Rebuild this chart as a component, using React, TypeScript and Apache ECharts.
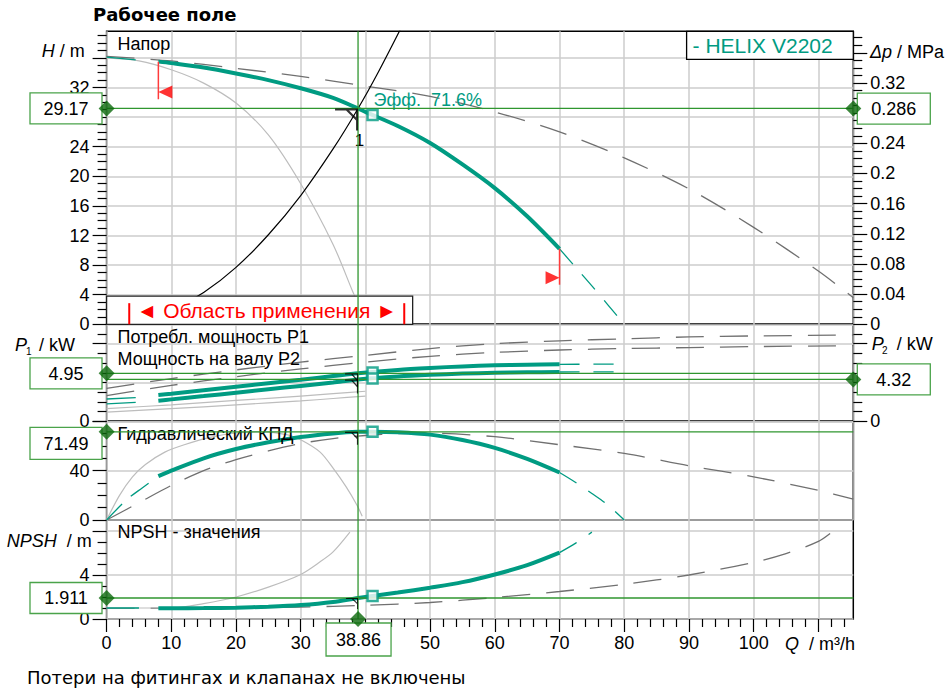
import React, { useEffect, useRef } from "react";
import * as echarts from "echarts";

// ---------------- data ----------------
const Q_MAX = 115.4;
const H_MAX = 39.6;
const DP_MAX = 0.3885;
const P_MAX = 10;
const ETA_MAX = 80;
const NPSH_MAX = 9;

const X_TICKS = [0, 10, 20, 30, 40, 50, 60, 70, 80, 90, 100, 110];
const X_LABELS = [0, 10, 20, 30, 50, 60, 70, 80, 90, 100];
const H_TICKS = [0, 4, 8, 12, 16, 20, 24, 28, 32, 36];
const H_LABELS = [0, 4, 8, 12, 16, 20, 24, 32];
const DP_TICKS = [0, 0.04, 0.08, 0.12, 0.16, 0.2, 0.24, 0.28, 0.32, 0.36];
const DP_LABELS = [0, 0.04, 0.08, 0.12, 0.16, 0.2, 0.24, 0.32];
const P_TICKS = [0, 4, 8];
const P_LABELS = [0];
const ETA_TICKS = [0, 40, 80];
const ETA_LABELS = [0, 40];
const NPSH_TICKS = [0, 4, 8];
const NPSH_LABELS = [0, 4];

// operating point
const OP_Q = 38.86;
const OP_H = 29.17;
const OP_DP = 0.286;
const OP_P1 = 4.95;
const OP_P2 = 4.32;
const OP_ETA = 71.49;
const OP_NPSH = 1.911;
// best efficiency marker
const BEP_Q = 41.1;
const BEP_H = 28.3;
const BEP_P1 = 5.04;
const BEP_P2 = 4.41;
const BEP_ETA = 71.6;
const BEP_NPSH = 2.08;

// head
const H_Q = [8, 10, 15, 20, 25, 30, 35, 38.86, 40, 45, 50, 55, 60, 65, 70];
const H_VAL = [35.5, 35.3, 34.7, 33.9, 33.0, 31.9, 30.6, 29.17, 28.7, 26.8, 24.5, 21.6, 18.4, 14.6, 10.2];
const H_LEAD_Q = [0, 4.5];
const H_LEAD = [36.1, 35.75];
const H_TAIL_Q = [70, 72.5, 75, 77.5, 80];
const H_TAIL = [10.2, 7.7, 5.2, 2.6, 0];
const HMAX_Q = [0, 10, 20, 30, 40, 50, 60, 70, 80, 90, 100, 110, 115.4];
const HMAX = [36.2, 35.6, 34.6, 33.5, 32.2, 30.8, 28.7, 26.0, 22.5, 18.3, 13.1, 7.2, 3.6];
const HMIN_Q = [0, 5, 10, 15, 20, 25, 30, 35, 38, 40.2];
const HMIN = [36.0, 35.6, 34.4, 32.6, 29.9, 25.6, 19.0, 10.8, 4.5, 0];
const SYS_Q = [0, 5, 10, 15, 20, 25, 30, 35, 38.86, 42, 46];
const SYS_H = [0, 0.5, 1.9, 4.3, 7.7, 12.1, 17.4, 23.7, 29.17, 34.1, 40.9];

// power
const P_Q = [8, 10, 15, 20, 25, 30, 35, 38.86, 45, 50, 55, 60, 65, 70];
const P1_VAL = [2.7, 2.84, 3.2, 3.56, 3.92, 4.28, 4.66, 4.95, 5.3, 5.5, 5.66, 5.77, 5.84, 5.87];
const P2_VAL = [2.12, 2.26, 2.6, 2.95, 3.3, 3.65, 4.01, 4.32, 4.62, 4.79, 4.92, 5.0, 5.05, 5.08];
const P_LEAD_Q = [0, 4.5];
const P1_LEAD = [2.3, 2.45];
const P2_LEAD = [1.8, 1.95];
const P_TAIL_Q = [70, 75, 80];
const P1_TAIL = [5.87, 5.89, 5.9];
const P2_TAIL = [5.08, 5.09, 5.1];
const PMAX_Q = [0, 10, 20, 30, 40, 50, 60, 70, 80, 90, 100, 115.4];
const P1MAX = [3.4, 4.4, 5.3, 6.1, 6.8, 7.5, 8.0, 8.3, 8.5, 8.7, 8.8, 8.9];
const P2MAX = [2.65, 3.7, 4.6, 5.4, 6.1, 6.7, 7.1, 7.35, 7.5, 7.6, 7.7, 7.8];
const PMIN_Q = [0, 10, 20, 30, 35, 40];
const P1MIN = [1.3, 1.7, 2.15, 2.6, 2.85, 3.1];
const P2MIN = [0.95, 1.3, 1.7, 2.1, 2.35, 2.6];

// efficiency
const ETA_Q = [8, 10, 15, 20, 25, 30, 35, 38.86, 41.1, 45, 50, 55, 60, 65, 70];
const ETA_VAL = [35.5, 40, 50, 57.5, 63, 67.3, 70.2, 71.49, 71.6, 71.1, 69.2, 64.8, 58.4, 49.5, 38.5];
const ETA_LEAD_Q = [0, 3, 5.5, 8];
const ETA_LEAD = [0, 16, 26, 35.5];
const ETA_TAIL_Q = [70, 72.5, 75, 77.5, 80];
const ETA_TAIL = [38.5, 30.4, 21.5, 12, 0];
const ETAMAX_Q = [0, 5, 10, 15, 20, 25, 30, 35, 40, 45, 50, 60, 70, 80, 90, 100, 110, 115.4];
const ETAMAX = [0, 14, 28, 40, 49, 56, 62, 66, 68.5, 70, 70.3, 67.5, 61, 54, 44, 35, 24, 17];
const ETAMIN_Q = [0, 2, 4, 6, 9, 12, 16, 20, 24, 28, 30, 33, 35, 37, 38.7, 39.5];
const ETAMIN = [0, 20, 35, 45, 55, 61, 67, 70.5, 71.5, 69, 65, 55, 42, 27, 12, 3];

// NPSH
const NPSH_Q = [8, 10, 15, 20, 25, 30, 35, 38.86, 45, 50, 55, 60, 65, 70];
const NPSH_VAL = [0.97, 0.97, 0.99, 1.03, 1.12, 1.27, 1.55, 1.911, 2.4, 2.85, 3.35, 4.05, 4.9, 6.04];
const NPSH_LEAD_Q = [0, 5];
const NPSH_LEAD = [1.0, 1.0];
const NPSH_TAIL_Q = [70, 72.5, 75];
const NPSH_TAIL = [6.04, 6.9, 7.9];
const NPSHMAX_Q = [0, 10, 20, 30, 40, 50, 60, 70, 80, 90, 100, 105, 110, 112.5];
const NPSHMAX = [0.97, 0.98, 1.0, 1.08, 1.25, 1.5, 1.95, 2.5, 3.15, 4.0, 5.15, 5.95, 7.05, 8.1];
const NPSHMIN_Q = [0, 10, 15, 20, 25, 30, 33, 35, 37.6];
const NPSHMIN = [1.0, 1.0, 1.4, 2.0, 2.9, 4.05, 5.2, 6.1, 7.9];

// limits / range markers
const Q_LIMITS = [8, 70];
const Q_LIMIT_H_TOP = [35.5, 10.2];
const Q_LIMIT_H_BOTTOM = [30.4, 5.35];
const Q_LIMIT_TRI_H = [31.4, 6.3];
const APP_RANGE = [3.5, 46];
const APP_BOX_END = 47.3;
const APP_BOX_TOP = 3.8;

// ---------------- style ----------------
const FONT = "'Liberation Sans', Arial, sans-serif";
const VFONT = "'DejaVu Sans', Verdana, sans-serif";
const TEAL = "#009b82";
const GREEN = "#2f962f";
const DGREEN = "#0b690b";
const BOXGREEN = "#4aa34a";
const GRID_C = "#cccccc";
const DASH_C = "#707070";
const LGRAY = "#bdbdbd";

const GRID_LEFT = 106.6;
const GRID_RIGHT = 853.3;
const PANELS = [
  { top: 31.3, bottom: 324.3 },
  { top: 324.3, bottom: 421.3 },
  { top: 421.3, bottom: 520 },
  { top: 520, bottom: 619 },
];

const zip = (qs: number[], vs: number[]) => qs.map((q, i) => [q, vs[i]]);
const minorTicks = (max: number, step: number, major: number) => {
  const out: number[] = [];
  for (let k = 1; k * step <= max + 1e-9; k++) {
    const v = +(k * step).toFixed(4);
    const r = v / major;
    if (Math.abs(r - Math.round(r)) > 1e-6) out.push(v);
  }
  return out;
};

const OP_MARK = "path://M0,0 L23,0 L23,22 L21,22 L21,2 L0,2 Z M11,2 L14,2 L21,9 L21,12 Z";

function buildOption(): any {
  const tickStyle = { color: "#000", width: 1.2 };
  const splitStyle = { show: true, lineStyle: { color: GRID_C, width: 1.5 } };
  const labelBase = { color: "#000", fontSize: 18, fontFamily: FONT };

  const grid = PANELS.map((p) => ({
    left: GRID_LEFT,
    width: GRID_RIGHT - GRID_LEFT,
    top: p.top,
    height: p.bottom - p.top,
    show: true,
    borderColor: "#000",
    borderWidth: 1.5,
    backgroundColor: "transparent",
    containLabel: false,
    outerBoundsMode: "none",
  }));

  const xAxis: any[] = [0, 1, 2].map((g) => ({
    type: "value", gridIndex: g, min: 0, max: Q_MAX, interval: 10,
    axisLine: { show: false }, axisTick: { show: false }, axisLabel: { show: false },
    splitLine: splitStyle,
  }));
  xAxis.push({
    type: "value", gridIndex: 3, min: 0, max: Q_MAX, interval: 10, position: "bottom",
    axisLine: { show: false },
    axisTick: { show: true, length: 13, customValues: X_TICKS, lineStyle: tickStyle },
    axisLabel: { show: true, customValues: X_LABELS, margin: 15, ...labelBase },
    splitLine: splitStyle,
  });
  xAxis.push({
    type: "value", gridIndex: 3, min: 0, max: Q_MAX, interval: 2, position: "bottom",
    axisLine: { show: false },
    axisTick: { show: true, length: 8, customValues: minorTicks(114, 2, 10), lineStyle: tickStyle },
    axisLabel: { show: false }, splitLine: { show: false },
  });

  const yMain = (g: number, pos: string, max: number, interval: number, ticks: number[], labels: number[], split: boolean, fmt?: any) => ({
    type: "value", gridIndex: g, position: pos, min: 0, max, interval,
    axisLine: { show: false },
    axisTick: { show: true, length: 14, customValues: ticks, lineStyle: tickStyle },
    axisLabel: { show: true, customValues: labels, margin: 17, ...labelBase, formatter: fmt },
    splitLine: split ? splitStyle : { show: false },
  });
  const yMinor = (g: number, pos: string, max: number, ticks: number[]) => ({
    type: "value", gridIndex: g, position: pos, min: 0, max,
    axisLine: { show: false },
    axisTick: { show: true, length: 9, customValues: ticks, lineStyle: tickStyle },
    axisLabel: { show: false }, splitLine: { show: false },
  });
  const dpFmt = (v: number) => (v === 0 ? "0" : String(parseFloat(v.toFixed(2))));

  const yAxis = [
    yMain(0, "left", H_MAX, 4, H_TICKS, H_LABELS, true),
    yMinor(0, "left", H_MAX, minorTicks(39, 1, 4)),
    yMain(0, "right", DP_MAX, 0.04, DP_TICKS, DP_LABELS, false, dpFmt),
    yMinor(0, "right", DP_MAX, minorTicks(0.38, 0.01, 0.04)),
    yMain(1, "left", P_MAX, 4, P_TICKS, P_LABELS, true),
    yMinor(1, "left", P_MAX, minorTicks(9, 1, 4)),
    yMain(1, "right", P_MAX, 4, P_TICKS, P_LABELS, false),
    yMinor(1, "right", P_MAX, minorTicks(9, 1, 4)),
    yMain(2, "left", ETA_MAX, 40, ETA_TICKS, ETA_LABELS, true),
    yMinor(2, "left", ETA_MAX, minorTicks(70, 10, 40)),
    yMain(3, "left", NPSH_MAX, 4, NPSH_TICKS, NPSH_LABELS, true),
    yMinor(3, "left", NPSH_MAX, minorTicks(8, 1, 4)),
  ];

  const series: any[] = [];
  const line = (xi: number, yi: number, data: number[][], lineStyle: any, z = 3, smooth: any = 0.3) =>
    series.push({ type: "line", xAxisIndex: xi, yAxisIndex: yi, data, symbol: "none", showSymbol: false, smooth, lineStyle, z, silent: true });
  const scatter = (xi: number, yi: number, data: number[][], extra: any) =>
    series.push({ type: "scatter", xAxisIndex: xi, yAxisIndex: yi, data, silent: true, clip: false, ...extra });

  const THICK = { color: TEAL, width: 4 };
  const THIN = { color: TEAL, width: 1.3 };
  const TAIL = { color: TEAL, width: 1.3, type: [20, 14] };
  const GDASH = { color: DASH_C, width: 1.3, type: [28, 16] };
  const LG = { color: LGRAY, width: 1.2 };
  const GL = { color: GREEN, width: 1.3 };

  // panel 0: head
  line(0, 0, zip(HMAX_Q, HMAX), GDASH);
  line(0, 0, zip(HMIN_Q, HMIN), LG);
  line(0, 0, zip(SYS_Q, SYS_H), { color: "#000", width: 1.2 });
  line(0, 0, zip(H_LEAD_Q, H_LEAD), THIN, 4);
  line(0, 0, zip(H_Q, H_VAL), THICK, 5);
  line(0, 0, zip(H_TAIL_Q, H_TAIL), TAIL, 4);
  // panel 1: power
  line(1, 4, zip(PMAX_Q, P1MAX), GDASH);
  line(1, 4, zip(PMAX_Q, P2MAX), GDASH);
  line(1, 4, zip(PMIN_Q, P1MIN), LG);
  line(1, 4, zip(PMIN_Q, P2MIN), LG);
  line(1, 4, zip(P_LEAD_Q, P1_LEAD), THIN, 4);
  line(1, 4, zip(P_LEAD_Q, P2_LEAD), THIN, 4);
  line(1, 4, zip(P_Q, P1_VAL), THICK, 5);
  line(1, 4, zip(P_Q, P2_VAL), THICK, 5);
  line(1, 4, zip(P_TAIL_Q, P1_TAIL), TAIL, 4);
  line(1, 4, zip(P_TAIL_Q, P2_TAIL), TAIL, 4);
  // panel 2: efficiency
  line(2, 8, zip(ETAMAX_Q, ETAMAX), GDASH);
  line(2, 8, zip(ETAMIN_Q, ETAMIN), LG);
  line(2, 8, zip(ETA_LEAD_Q, ETA_LEAD), { color: TEAL, width: 1.3, type: [22, 12] }, 4);
  line(2, 8, zip(ETA_Q, ETA_VAL), THICK, 5);
  line(2, 8, zip(ETA_TAIL_Q, ETA_TAIL), TAIL, 4);
  // panel 3: NPSH
  line(3, 10, zip(NPSHMAX_Q, NPSHMAX), GDASH);
  line(3, 10, zip(NPSHMIN_Q, NPSHMIN), LG);
  line(3, 10, zip(NPSH_LEAD_Q, NPSH_LEAD), THIN, 4);
  line(3, 10, zip(NPSH_Q, NPSH_VAL), THICK, 5);
  line(3, 10, zip(NPSH_TAIL_Q, NPSH_TAIL), TAIL, 4);

  // operating point green lines
  line(0, 0, [[0, OP_H], [Q_MAX, OP_H]], GL, 120, false);
  line(1, 4, [[0, OP_P1], [Q_MAX, OP_P1]], GL, 120, false);
  line(1, 6, [[0, OP_P2], [Q_MAX, OP_P2]], GL, 120, false);
  line(2, 8, [[0, OP_ETA], [Q_MAX, OP_ETA]], GL, 120, false);
  line(3, 10, [[0, OP_NPSH], [Q_MAX, OP_NPSH]], GL, 120, false);
  line(0, 0, [[OP_Q, 0], [OP_Q, H_MAX]], GL, 120, false);
  line(1, 4, [[OP_Q, 0], [OP_Q, P_MAX]], GL, 120, false);
  line(2, 8, [[OP_Q, 0], [OP_Q, ETA_MAX]], GL, 120, false);
  line(3, 10, [[OP_Q, 0], [OP_Q, NPSH_MAX]], GL, 120, false);

  // red flow limits
  Q_LIMITS.forEach((q, i) => {
    line(0, 0, [[q, Q_LIMIT_H_TOP[i]], [q, Q_LIMIT_H_BOTTOM[i]]], { color: "#ff3b3b", width: 1.5 }, 110, false);
  });
  scatter(0, 0, [[Q_LIMITS[0], Q_LIMIT_TRI_H[0]]], { symbol: "triangle", symbolSize: [13, 14], symbolRotate: 90, symbolOffset: [7, 0], itemStyle: { color: "#ff0000" }, z: 110 });
  scatter(0, 0, [[Q_LIMITS[1], Q_LIMIT_TRI_H[1]]], { symbol: "triangle", symbolSize: [13, 14], symbolRotate: -90, symbolOffset: [-7, 0], itemStyle: { color: "#ff0000" }, z: 110 });

  // best efficiency squares
  const sq = { symbol: "rect", symbolSize: 10, itemStyle: { color: "#fff", borderColor: TEAL, borderWidth: 2.5 }, z: 130 };
  scatter(0, 0, [[BEP_Q, BEP_H]], sq);
  scatter(1, 4, [[BEP_Q, BEP_P1], [BEP_Q, BEP_P2]], sq);
  scatter(2, 8, [[BEP_Q, BEP_ETA]], sq);
  scatter(3, 10, [[BEP_Q, BEP_NPSH]], sq);

  // operating point black marks
  const mk = (size: number[]) => ({ symbol: OP_MARK, symbolSize: size, symbolOffset: [-size[0] / 2, size[1] / 2], itemStyle: { color: "#000" }, z: 125 });
  scatter(0, 0, [[OP_Q, OP_H]], mk([23, 22]));
  scatter(1, 4, [[OP_Q, OP_P1], [OP_Q, OP_P2]], mk([13, 14]));
  scatter(2, 8, [[OP_Q, OP_ETA]], mk([13, 13]));
  scatter(3, 10, [[OP_Q, OP_NPSH]], mk([12, 11]));

  // diamonds
  const dm = { symbol: "diamond", symbolSize: [16, 16], itemStyle: { color: DGREEN }, z: 150 };
  scatter(0, 0, [[0, OP_H], [Q_MAX, OP_H]], dm);
  scatter(1, 4, [[0, OP_P1]], dm);
  scatter(1, 6, [[Q_MAX, OP_P2]], dm);
  scatter(2, 8, [[0, OP_ETA]], dm);
  scatter(3, 10, [[0, OP_NPSH], [OP_Q, 0]], dm);

  return { animation: false, backgroundColor: "#fff", grid, xAxis, yAxis, series };
}

function buildGraphics(chart: any): any[] {
  const px = (q: number) => chart.convertToPixel({ xAxisIndex: 3 }, q) as number;
  const py = (yi: number, v: number) => chart.convertToPixel({ yAxisIndex: yi }, v) as number;
  const g: any[] = [];
  const T = (x: number, y: number, text: string, o: any = {}) =>
    g.push({
      type: "text", z: o.z ?? 60, silent: true,
      style: {
        text, x, y, fill: o.fill ?? "#000", fontSize: o.size ?? 18, fontFamily: o.family ?? FONT,
        fontWeight: o.weight ?? "normal", fontStyle: o.fstyle ?? "normal",
        align: o.align ?? "left", verticalAlign: "middle",
        textAlign: o.align ?? "left", textVerticalAlign: "middle",
        rich: o.rich,
      },
    });
  const box = (x: number, y: number, w: number, h: number, label: string) => {
    g.push({ type: "rect", z: 100, silent: true, shape: { x, y, width: w, height: h }, style: { fill: "#fff", stroke: BOXGREEN, lineWidth: 1.3 } });
    T(x + w / 2, y + h / 2 + 0.5, label, { align: "center", z: 101 });
  };

  const xL = px(0);
  const xR = px(Q_MAX);

  // title & footer
  T(93, 14, "Рабочее поле", { family: VFONT, weight: "bold", size: 18 });
  T(27, 677, "Потери на фитингах и клапанах не включены", { family: VFONT, size: 18 });

  // panel captions
  T(117.5, PANELS[0].top + 12.5, "Напор");
  T(117.5, PANELS[1].top + 13, "Потребл. мощность P1");
  T(117.5, PANELS[1].top + 35, "Мощность на валу P2");
  T(117.5, PANELS[2].top + 12.7, "Гидравлический КПД");
  T(117.5, PANELS[3].top + 11.7, "NPSH - значения");

  // axis names
  const it = { i: { fontStyle: "italic", fontSize: 18, fontFamily: FONT, fill: "#000" } };
  T(41.7, 51, "{i|H} / m", { rich: it });
  T(870, 52, "{i|Δp} / MPa", { rich: it });
  T(15, 345, "P", { fstyle: "italic" });
  T(26, 351, "1", { size: 10 });
  T(39, 345, "/ kW");
  T(871.7, 344, "P", { fstyle: "italic" });
  T(882, 350, "2", { size: 10 });
  T(896.7, 344, "/ kW");
  T(6.7, 541, "{i|NPSH}  / m", { rich: it });
  T(785, py(10, 0) + 24.5, "{i|Q}  / m³/h", { rich: it });

  // legend box
  const legW = 166.7;
  g.push({ type: "rect", z: 100, silent: true, shape: { x: xR - legW, y: PANELS[0].top, width: legW, height: 28 }, style: { fill: "#fff", stroke: "#000", lineWidth: 1.3 } });
  T(xR - legW + 6, PANELS[0].top + 14, "- HELIX V2202", { fill: TEAL, size: 21, z: 101 });

  // application range box
  const ax0 = px(0), ax1 = px(APP_BOX_END), ayT = py(0, APP_BOX_TOP), ayB = py(0, 0);
  g.push({ type: "rect", z: 100, silent: true, shape: { x: ax0, y: ayT, width: ax1 - ax0, height: ayB - ayT }, style: { fill: "#fff", stroke: "#222", lineWidth: 1.3 } });
  const r0 = px(APP_RANGE[0]), r1 = px(APP_RANGE[1]);
  [r0, r1].forEach((x) => g.push({ type: "line", z: 101, silent: true, shape: { x1: x, y1: ayT + 7, x2: x, y2: ayB }, style: { stroke: "#ff0000", lineWidth: 2 } }));
  T((r0 + r1) / 2, (ayT + ayB) / 2 + 0.5, "◄ Область применения ►", { fill: "#ff0000", size: 21, align: "center", z: 101 });

  // value boxes
  const bw = 72, bh = 31;
  let cy = py(0, OP_H);
  box(xL - 76.6, cy - bh / 2, bw, bh, String(OP_H));
  cy = py(2, OP_DP);
  box(xR + 4, cy - bh / 2, 73, bh, String(OP_DP));
  cy = py(4, OP_P1);
  box(xL - 76.6, cy - bh / 2, bw, bh, String(OP_P1));
  cy = py(6, OP_P2);
  box(xR + 4, cy - bh / 2, 73, bh, String(OP_P2));
  cy = py(8, OP_ETA);
  box(xL - 76.6, cy - 4.5, bw, 32, String(OP_ETA));
  cy = py(10, OP_NPSH);
  box(xL - 76.6, cy - bh / 2, bw, bh, String(OP_NPSH));
  const qx = px(OP_Q);
  box(qx - 32, py(10, 0) + 4, 65, 33, String(OP_Q));

  // efficiency label & point number
  T(px(BEP_Q) + 1, py(0, OP_H) - 8, "Эфф.\u00a0 " + BEP_ETA + "%", { fill: TEAL, size: 18 });
  T(qx + 1.5, py(0, OP_H) + 32, "1", { align: "center", size: 17 });

  return g;
}

export default function App() {
  const ref = useRef<HTMLDivElement>(null);
  useEffect(() => {
    const el = ref.current;
    if (!el) return;
    const chart = echarts.init(el, null, { renderer: "svg" });
    chart.setOption(buildOption());
    chart.setOption({ graphic: buildGraphics(chart) });
    return () => chart.dispose();
  }, []);
  return (
    <div
      ref={ref}
      style={{ position: "absolute", left: 0, top: 0, width: 948, height: 691, background: "#fff" }}
    />
  );
}
